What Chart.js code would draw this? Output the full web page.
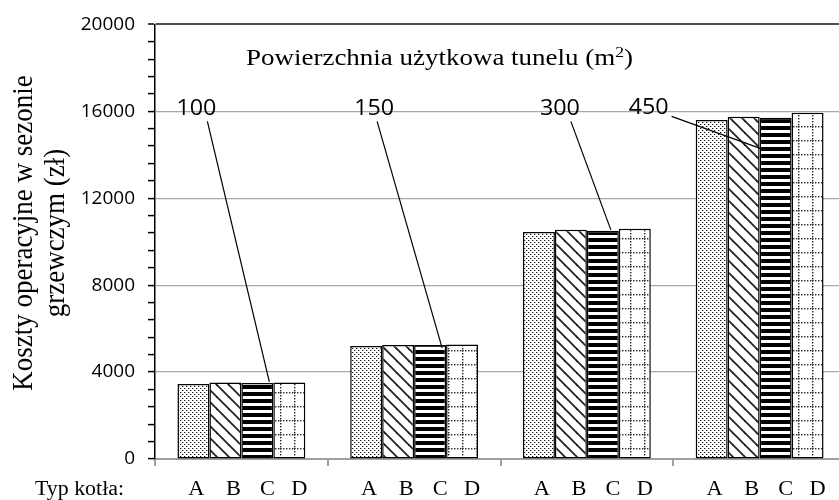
<!DOCTYPE html>
<html><head><meta charset="utf-8">
<script src="https://cdn.jsdelivr.net/npm/chart.js@4.4.1/dist/chart.umd.min.js"></script>
<style>
html,body{margin:0;padding:0;background:#fff;overflow:hidden;width:839px;height:500px}
#wrap{width:850px;height:500px;position:relative}
</style></head>
<body><div id="wrap"><canvas id="c"></canvas></div>
<script>
// ---- data ----
const areas = ['100', '150', '300', '450'];          // Powierzchnia użytkowa tunelu (m2)
const boilerTypes = ['A', 'B', 'C', 'D'];             // Typ kotła
const costsA = [3450, 5200, 10450, 15600];
const costsB = [3520, 5250, 10550, 15750];
const costsC = [3500, 5250, 10500, 15700];
const costsD = [3520, 5270, 10600, 15930];
const yMax = 20000;
const yMajorStep = 4000;
const yMinorStep = 800;

// ---- patterns ----
const mainCtx = document.getElementById('c').getContext('2d');
function makePattern(w, h, draw) {
  const c = document.createElement('canvas'); c.width = w; c.height = h;
  const g = c.getContext('2d');
  g.fillStyle = '#fff'; g.fillRect(0, 0, w, h);
  draw(g, w, h);
  return mainCtx.createPattern(c, 'repeat');
}
const patDots = makePattern(4, 4, g => {
  g.fillStyle = '#111';
  g.fillRect(0, 0, 1, 1); g.fillRect(2, 2, 1, 1);
  g.fillStyle = '#bbb';
  g.fillRect(1, 0, 1, 1); g.fillRect(3, 2, 1, 1);
});
const patDiag = makePattern(12, 12, (g, w, h) => {
  g.strokeStyle = '#222'; g.lineWidth = 1.8;
  for (const o of [-w, 0, w]) { g.beginPath(); g.moveTo(o - 1, -1); g.lineTo(o + w + 1, h + 1); g.stroke(); }
});
const patHoriz = makePattern(2, 7, g => {
  g.fillStyle = '#000'; g.fillRect(0, 0, 2, 4);
});
const patGrid = makePattern(14, 14, g => {
  g.fillStyle = '#222';
  for (let y = 0; y < 14; y += 3) g.fillRect(0, y, 1.4, 1.4);
  for (let x = 0; x < 14; x += 3) g.fillRect(x, 0, 1.4, 1.4);
});
const patterns = [patDots, patDiag, patHoriz, patGrid];
const seriesValues = [costsA, costsB, costsC, costsD];

// ---- overlay texts & annotation lines ----
const annot = {
  id: 'annot',
  afterDraw(chart) {
    const ctx = chart.ctx, xs = chart.scales.x, ca = chart.chartArea;
    ctx.save();
    ctx.fillStyle = '#000'; ctx.strokeStyle = '#000';

    function drawScaled(parts, x, y, targetW, align) {
      // parts: [{t, font, dy}]
      let tot = 0; const ws = [];
      for (const p of parts) { ctx.font = p.font; const w = ctx.measureText(p.t).width; ws.push(w); tot += w; }
      const s = targetW ? targetW / tot : 1.12;
      ctx.save();
      ctx.translate(x, y); ctx.scale(s, 1);
      let cx = align === 'center' ? -tot / 2 : 0;
      ctx.textAlign = 'left'; ctx.textBaseline = 'alphabetic';
      parts.forEach((p, i) => { ctx.font = p.font; ctx.fillText(p.t, cx, p.dy || 0); cx += ws[i]; });
      ctx.restore();
    }

    // title
    const serif = '"Liberation Serif", "Times New Roman", serif';
    drawScaled([
      { t: 'Powierzchnia użytkowa tunelu (m', font: '23px ' + serif },
      { t: '2', font: '15px ' + serif, dy: -8 },
      { t: ')', font: '23px ' + serif }
    ], 246, 65, 387, 'left');

    // area labels + leader lines
    const metaC = chart.getDatasetMeta(2);
    const labelDx = [-45, -40, -27, -111];
    const labelBase = [91, 91, 91, 90];
    const startDx = [-34, -37, -16, -88];
    const startDy = [97, 97, 97, 92];
    const endDx = [12, 12, 8, -14];
    const endDy = [-1, 3, -1, 31];
    areas.forEach((a, i) => {
      const cx = xs.getPixelForValue(i);
      drawScaled([{ t: a, font: '22px "Open Sans", sans-serif' }], cx + labelDx[i], ca.top + labelBase[i], 40, 'center');
      const bar = metaC.data[i];
      ctx.beginPath(); ctx.lineWidth = 1.2;
      ctx.moveTo(cx + startDx[i], ca.top + startDy[i]);
      ctx.lineTo(bar.x + endDx[i], bar.y + endDy[i]);
      ctx.stroke();
    });

    // x labels: Typ kotła + letters
    const baseY = 495;
    drawScaled([{ t: 'Typ kotła:', font: '20px ' + serif }], 35, baseY, 89, 'left');
    const letterDx = [3, 8, 10, 10];
    boilerTypes.forEach((L, d) => {
      chart.getDatasetMeta(d).data.forEach(el => {
        drawScaled([{ t: L, font: '20px ' + serif }], el.x + letterDx[d], baseY, 0, 'center');
      });
    });

    // y-axis title (two lines, rotated)
    const yMid = 233;
    [['Koszty operacyjne w sezonie', 32], ['grzewczym (zł)', 64]].forEach(([t, bx]) => {
      ctx.save();
      ctx.translate(bx, yMid); ctx.scale(1.12, 1); ctx.rotate(-Math.PI / 2);
      ctx.font = '27px ' + serif; ctx.textAlign = 'center'; ctx.textBaseline = 'alphabetic';
      ctx.fillText(t, 0, 0);
      ctx.restore();
    });
    ctx.restore();
  }
};

new Chart(document.getElementById('c'), {
  type: 'bar',
  data: {
    labels: areas,
    datasets: boilerTypes.map((t, i) => ({
      label: t, data: seriesValues[i], backgroundColor: patterns[i]
    }))
  },
  options: {
    responsive: true, maintainAspectRatio: false, animation: false,
    layout: { padding: { top: 21, right: 4, left: 0, bottom: 0 } },
    plugins: { legend: { display: false }, tooltip: { enabled: false } },
    datasets: { bar: { categoryPercentage: 0.74, barPercentage: 1, borderColor: '#000', borderWidth: 1.5, borderSkipped: false } },
    scales: {
      x: {
        type: 'category', offset: true,
        border: { color: '#a0a0a0', width: 2 },
        grid: { offset: true, drawOnChartArea: false, color: '#a0a0a0', lineWidth: 2, tickLength: 7 },
        ticks: { display: false },
        afterFit: s => { s.height = 41; }
      },
      y: {
        min: 0, max: yMax,
        border: { color: '#000', width: 1.5 },
        grid: {
          color: c => c.tick.value === yMax ? '#505050' : (c.tick.value % yMajorStep === 0 ? '#a8a8a8' : 'rgba(0,0,0,0)'),
          lineWidth: c => c.tick.value === yMax ? 2 : 1.2,
          tickColor: '#000', tickLength: 7, tickWidth: 1.5
        },
        ticks: {
          stepSize: yMinorStep, autoSkip: false, maxTicksLimit: 100, padding: 13, color: '#000',
          font: { family: '"Open Sans", sans-serif', size: 19 },
          callback: v => (v % yMajorStep === 0 ? String(v) : '')
        },
        afterFit: s => { s.width = 155; }
      }
    }
  },
  plugins: [annot]
});
</script>
</body></html>
